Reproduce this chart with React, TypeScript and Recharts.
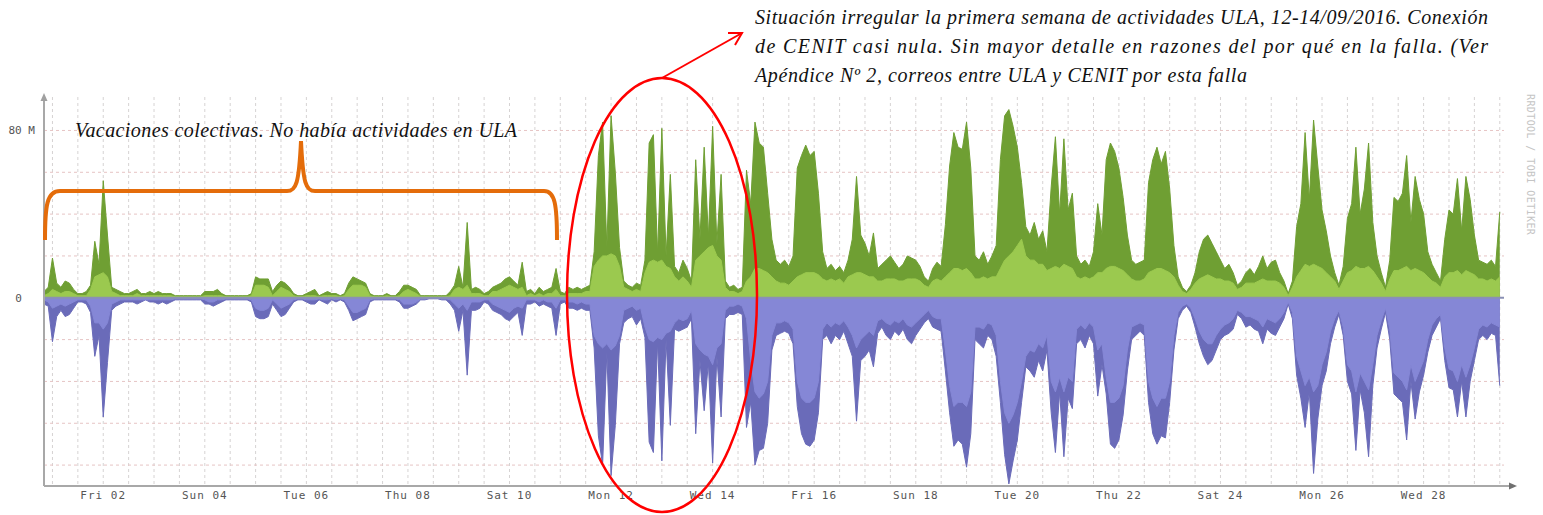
import React from 'react';
import {
  ComposedChart,
  Area,
  XAxis,
  YAxis,
  CartesianGrid,
  ReferenceLine,
} from 'recharts';

// traffic samples every 2 hours, starting Aug 31 20:00 (hour -4 from Sep 1 00:00), in M
const inMax = [
  3, 5,
  19, 7, 5, 8, 7, 4, 2, 2, 3, 6, 27, 16, // Sep 1
  56, 30, 5, 4, 3, 2, 2, 3, 4, 2, 2, 3,
  2, 3, 2, 2, 2, 1, 1, 1, 1, 1, 1, 1,
  3, 3, 3, 4, 2, 1, 1, 1, 1, 1, 1, 2,
  10, 9, 9, 9, 3, 6, 8, 7, 5, 2, 1, 1, // Sep 5
  2, 3, 4, 1, 2, 3, 2, 2, 1, 2, 7, 10,
  9, 8, 7, 2, 1, 1, 1, 2, 1, 1, 3, 6,
  6, 5, 4, 1, 1, 1, 1, 1, 1, 1, 3, 6,
  15, 5, 36, 4, 5, 4, 2, 3, 5, 6, 7, 9,
  10, 8, 6, 17, 3, 4, 2, 5, 3, 4, 5, 14, // Sep 10
  3, 2, 5, 4, 5, 4, 5, 6, 22, 68, 84, 24,
  87, 60, 24, 8, 6, 5, 7, 6, 18, 74, 78, 21,
  81, 20, 59, 15, 12, 18, 14, 8, 66, 28, 72, 29,
  82, 26, 59, 8, 5, 6, 4, 5, 61, 45, 84, 74,
  72, 50, 28, 18, 16, 18, 15, 20, 62, 68, 73, 68, // Sep 15
  70, 50, 22, 14, 16, 13, 15, 12, 18, 28, 58, 30,
  26, 20, 31, 14, 16, 18, 20, 17, 14, 16, 20, 19,
  18, 15, 10, 8, 14, 17, 15, 35, 63, 79, 72, 71,
  84, 62, 20, 18, 22, 16, 20, 25, 66, 87, 90, 82,
  72, 55, 34, 30, 36, 28, 32, 22, 53, 77, 40, 76, // Sep 20
  42, 50, 20, 16, 18, 15, 22, 45, 30, 66, 74, 70,
  62, 48, 30, 18, 16, 17, 18, 55, 66, 72, 64, 70,
  52, 25, 10, 5, 3, 6, 12, 22, 28, 30, 26, 22,
  18, 14, 16, 12, 6, 8, 12, 14, 11, 15, 20, 14,
  17, 18, 12, 8, 2, 8, 34, 45, 79, 47, 85, 63, // Sep 25
  42, 32, 20, 12, 6, 15, 38, 45, 72, 40, 52, 74,
  36, 20, 12, 5, 18, 48, 46, 50, 68, 36, 58, 47,
  40, 22, 16, 12, 8, 28, 42, 40, 57, 32, 58, 47,
  30, 18, 17, 16, 18, 15, 41,
];

const inAvg = [
  1, 2,
  4, 3, 2, 3, 3, 2, 1, 1, 1, 4, 10, 11,
  12, 10, 3, 2, 1, 1, 1, 1, 2, 1, 1, 1,
  1, 1, 1, 1, 1, 0.5, 0.5, 0.5, 0.5, 0.5, 0.5, 0.5,
  1, 1, 1, 1, 1, 0.5, 0.5, 0.5, 0.5, 0.5, 0.5, 1,
  6, 6, 6, 5, 1, 3, 5, 4, 3, 1, 0.5, 0.5,
  1, 1, 1, 0.5, 1, 1, 1, 1, 0.5, 1, 4, 6,
  6, 6, 5, 1, 0.5, 0.5, 0.5, 1, 0.5, 0.5, 1, 3,
  4, 3, 2, 0.5, 0.5, 0.5, 0.5, 0.5, 0.5, 0.5, 1, 4,
  5, 4, 6, 2, 2, 2, 1, 1, 3, 3, 4, 5,
  6, 5, 4, 5, 1, 2, 1, 2, 1, 2, 2, 4,
  1, 1, 2, 2, 2, 2, 3, 3, 15, 18, 20, 20,
  21, 20, 15, 5, 4, 3, 4, 3, 12, 17, 18, 17,
  18, 15, 14, 10, 8, 10, 8, 5, 18, 20, 22, 24,
  25, 20, 18, 5, 3, 3, 2, 3, 8, 10, 14, 14,
  13, 12, 10, 8, 7, 7, 6, 8, 10, 11, 12, 12,
  12, 11, 9, 8, 9, 8, 9, 7, 10, 11, 12, 12,
  11, 10, 10, 8, 8, 9, 9, 9, 8, 8, 9, 9,
  9, 8, 6, 5, 8, 9, 8, 10, 12, 14, 14, 13,
  14, 12, 9, 9, 10, 9, 10, 10, 14, 18, 20, 22,
  25, 28, 20, 18, 18, 16, 16, 13, 14, 15, 14, 16,
  15, 14, 10, 9, 10, 9, 10, 12, 12, 14, 15, 15,
  14, 13, 11, 9, 8, 8, 9, 12, 13, 14, 14, 13,
  12, 10, 6, 3, 2, 4, 7, 9, 10, 11, 10, 9,
  9, 8, 8, 7, 4, 5, 7, 7, 7, 8, 9, 8,
  8, 8, 7, 5, 1, 5, 10, 13, 16, 15, 16, 15,
  14, 12, 10, 8, 4, 8, 12, 13, 15, 14, 14, 15,
  13, 10, 7, 3, 9, 13, 13, 14, 15, 13, 14, 13,
  12, 10, 8, 7, 5, 10, 12, 12, 13, 11, 13, 12,
  11, 9, 9, 8, 9, 8, 10,
];

const outMax = [
  -3, -4,
  -21, -9, -6, -9, -8, -5, -2, -2, -3, -7, -28, -18,
  -57, -31, -6, -4, -3, -2, -2, -2, -3, -2, -1, -2,
  -2, -3, -2, -3, -2, -1, -1, -1, -1, -1, -1, -1,
  -3, -3, -4, -3, -2, -1, -1, -1, -1, -1, -1, -2,
  -9, -10, -10, -9, -3, -6, -9, -8, -5, -2, -1, -1,
  -2, -3, -3, -1, -2, -3, -1, -2, -1, -2, -6, -11,
  -10, -9, -8, -2, -1, -1, -1, -1, -1, -1, -2, -5,
  -5, -4, -3, -1, -1, -0.5, -0.5, -0.5, -1, -1, -3, -6,
  -16, -6, -37, -6, -6, -5, -2, -3, -6, -7, -8, -10,
  -11, -9, -7, -18, -3, -3, -2, -4, -3, -4, -5, -18,
  -3, -2, -5, -5, -6, -5, -6, -6, -24, -66, -80, -26,
  -85, -61, -22, -12, -10, -9, -13, -10, -19, -69, -74, -21,
  -78, -20, -61, -15, -16, -15, -14, -10, -65, -30, -54, -31,
  -79, -28, -57, -10, -8, -8, -7, -8, -62, -50, -80, -73,
  -72, -60, -25, -18, -17, -16, -17, -22, -52, -65, -70, -71,
  -68, -55, -20, -18, -22, -18, -20, -16, -22, -28, -59, -30,
  -28, -25, -33, -17, -14, -18, -20, -16, -18, -15, -20, -22,
  -18, -15, -12, -10, -14, -15, -16, -35, -55, -71, -68, -70,
  -81, -65, -20, -22, -24, -18, -20, -28, -50, -75, -89, -78,
  -68, -50, -33, -35, -38, -30, -35, -25, -55, -74, -45, -76,
  -48, -53, -22, -20, -24, -18, -22, -47, -32, -46, -70, -72,
  -68, -56, -35, -20, -18, -16, -18, -50, -65, -70, -66, -67,
  -50, -25, -10, -6, -4, -7, -14, -22, -28, -32, -30, -25,
  -20, -18, -17, -15, -8, -10, -14, -13, -15, -16, -22, -15,
  -17, -18, -14, -10, -3, -10, -37, -48, -62, -45, -84, -58,
  -42, -35, -22, -14, -8, -18, -40, -46, -73, -44, -55, -76,
  -42, -24, -15, -7, -20, -46, -48, -50, -68, -40, -58, -45,
  -37, -26, -18, -14, -10, -30, -43, -44, -57, -40, -57, -40,
  -30, -20, -18, -20, -17, -18, -42,
];

const outAvg = [
  -1, -2,
  -5, -4, -3, -4, -3, -2, -1, -1, -1, -4, -12, -12,
  -15, -12, -3, -2, -1, -1, -1, -1, -1, -1, -1, -1,
  -1, -1, -1, -1, -1, -0.5, -0.5, -0.5, -0.5, -0.5, -0.5, -0.5,
  -1, -2, -2, -1, -1, -0.5, -0.5, -0.5, -0.5, -0.5, -0.5, -1,
  -5, -6, -6, -5, -1, -3, -5, -4, -3, -1, -0.5, -0.5,
  -1, -1, -1, -0.5, -1, -1, -0.5, -1, -0.5, -1, -4, -7,
  -7, -6, -5, -1, -0.5, -0.5, -0.5, -0.5, -0.5, -0.5, -1, -3,
  -3, -3, -2, -0.5, -0.5, -0.3, -0.3, -0.3, -0.5, -0.5, -1, -3,
  -5, -3, -6, -2, -2, -2, -1, -1, -3, -4, -5, -6,
  -7, -5, -4, -5, -1, -1, -1, -2, -1, -2, -2, -5,
  -1, -1, -2, -2, -3, -2, -3, -3, -18, -22, -24, -22,
  -25, -23, -18, -6, -5, -4, -6, -5, -14, -20, -21, -19,
  -20, -17, -16, -12, -10, -11, -10, -6, -22, -25, -27, -28,
  -32, -24, -22, -6, -4, -4, -3, -4, -10, -30, -45, -48,
  -46, -40, -18, -12, -12, -11, -12, -15, -40, -48, -50, -50,
  -48, -40, -15, -12, -14, -12, -13, -11, -14, -18, -24, -20,
  -18, -16, -18, -11, -10, -12, -13, -11, -12, -10, -13, -14,
  -12, -10, -8, -6, -9, -10, -10, -25, -42, -52, -50, -50,
  -52, -45, -14, -14, -15, -12, -13, -18, -40, -55, -60, -56,
  -50, -40, -28, -25, -26, -22, -24, -18, -40, -45, -38, -45,
  -38, -40, -15, -13, -15, -12, -14, -25, -22, -38, -50, -50,
  -48, -42, -25, -14, -13, -12, -13, -40, -48, -52, -48, -48,
  -40, -18, -7, -4, -3, -5, -10, -16, -20, -22, -22, -18,
  -15, -13, -12, -10, -6, -7, -9, -9, -10, -11, -14, -10,
  -11, -12, -10, -7, -2, -7, -28, -35, -42, -38, -45, -42,
  -32, -26, -16, -10, -6, -14, -32, -35, -45, -36, -40, -44,
  -32, -18, -11, -5, -15, -36, -38, -40, -44, -32, -40, -35,
  -30, -20, -13, -10, -8, -24, -34, -35, -40, -32, -38, -32,
  -24, -15, -13, -14, -12, -13, -14,
];

const tickHours = [24, 72, 120, 168, 216, 264, 312, 360, 408, 456, 504, 552, 600, 648];
const tickLabels = [
  'Fri 02', 'Sun 04', 'Tue 06', 'Thu 08', 'Sat 10', 'Mon 12', 'Wed 14',
  'Fri 16', 'Sun 18', 'Tue 20', 'Thu 22', 'Sat 24', 'Mon 26', 'Wed 28',
];
const yTicks = [0, 80];
const yGrid = [-80, -60, -40, -20, 20, 40, 60, 80];

const data = inMax.map((v, i) => ({
  t: -4 + 2 * i,
  inMax: v,
  inAvg: inAvg[i],
  outMax: outMax[i],
  outAvg: outAvg[i],
}));

const xGrid: number[] = [];
for (let h = 0; h <= 684; h += 12) xGrid.push(h);

const mono = '"DejaVu Sans Mono", monospace';
const serif = '"Liberation Serif", "Times New Roman", serif';

const YTick = (props: any) => {
  const { x, y, payload } = props;
  const label = payload.value === 0 ? '0  ' : `${payload.value} M`;
  return (
    <text x={x - 1} y={y} dy="0.35em" textAnchor="end" fontFamily={mono} fontSize={11}
      fill="#555" style={{ whiteSpace: 'pre' }}>
      {label}
    </text>
  );
};

const App: React.FC = () => {
  return (
    <div style={{ position: 'absolute', left: 0, top: 0, width: 1543, height: 515, background: '#fff' }}>
      <ComposedChart
        width={1543}
        height={515}
        data={data}
        margin={{ top: 97, right: 39, bottom: 0, left: 0 }}
      >
        <CartesianGrid horizontal={false} verticalValues={xGrid} stroke="#d6d3d3" strokeDasharray="3 3" />
        <CartesianGrid vertical={false} horizontalValues={yGrid} stroke="#e6c4c4" strokeDasharray="3 3" />
        <XAxis
          dataKey="t"
          type="number"
          domain={[-4, 686]}
          ticks={tickHours}
          interval={0}
          tickFormatter={(v: number) => tickLabels[tickHours.indexOf(v)] ?? ''}
          height={29}
          tickSize={0}
          tickMargin={5}
          axisLine={{ stroke: '#a8a8a8', strokeWidth: 2 }}
          tickLine={false}
          tick={{ fontSize: 11, fontFamily: mono, fill: '#555', letterSpacing: 1 }}
          allowDataOverflow
        />
        <YAxis
          type="number"
          domain={[-90, 96]}
          ticks={yTicks}
          width={44}
          axisLine={{ stroke: '#a8a8a8', strokeWidth: 2 }}
          tickLine={false}
          tick={<YTick />}
          allowDataOverflow
        />
        <Area type="linear" dataKey="outMax" baseValue={0} stroke="#6a6bb9" strokeWidth={1}
          fill="#6a6bb9" fillOpacity={1} dot={false} activeDot={false} isAnimationActive={false} />
        <Area type="linear" dataKey="outAvg" baseValue={0} stroke="#8587d6" strokeWidth={1}
          fill="#8587d6" fillOpacity={1} dot={false} activeDot={false} isAnimationActive={false} />
        <Area type="linear" dataKey="inMax" baseValue={0} stroke="#6f9f33" strokeWidth={1}
          fill="#6f9f33" fillOpacity={1} dot={false} activeDot={false} isAnimationActive={false} />
        <Area type="linear" dataKey="inAvg" baseValue={0} stroke="#9bc94f" strokeWidth={1}
          fill="#9bc94f" fillOpacity={1} dot={false} activeDot={false} isAnimationActive={false} />
        <ReferenceLine y={0} stroke="#8a90b4" strokeWidth={2} />
      </ComposedChart>

      <svg width={1543} height={515} style={{ position: 'absolute', left: 0, top: 0, pointerEvents: 'none' }}>
        {/* axis arrows */}
        <polygon points="44,93 40.5,101 47.5,101" fill="#a0a0a0" />
        <line x1={1503} y1={486} x2={1512} y2={486} stroke="#a8a8a8" strokeWidth={2} />
        <polygon points="1517,486 1509,482.5 1509,489.5" fill="#707070" />
        <text transform="translate(1527,94) rotate(90)" fontFamily={mono} fontSize={10}
          fill="#c4c4c4" letterSpacing={0.4}>
          RRDTOOL / TOBI OETIKER
        </text>

        {/* vacation note */}
        <text x={75} y={137} fontFamily={serif} fontStyle="italic" fontSize={20} fill="#111"
          textLength={442} lengthAdjust="spacing">
          Vacaciones colectivas. No había actividades en ULA
        </text>
        <path
          d="M 45 240 C 45 205 47 191 60 191 L 287 191 C 296 191 299 184 301 141 C 303 184 306 191 315 191 L 544 191 C 555 191 557 205 557 240"
          fill="none" stroke="#e46c0a" strokeWidth={4}
        />

        {/* irregular week note */}
        <ellipse cx={662} cy={295} rx={95} ry={217} fill="none" stroke="#ff0000" strokeWidth={2.5} />
        <line x1={662} y1={78} x2={742} y2={33} stroke="#ff0000" strokeWidth={2} />
        <polyline points="728,33 742,33 735,45" fill="none" stroke="#ff0000" strokeWidth={2} />
        <text x={755} y={24} fontFamily={serif} fontStyle="italic" fontSize={20} fill="#111"
          textLength={733} lengthAdjust="spacing">
          Situación irregular la primera semana de actividades ULA, 12-14/09/2016. Conexión
        </text>
        <text x={755} y={53} fontFamily={serif} fontStyle="italic" fontSize={20} fill="#111"
          textLength={733} lengthAdjust="spacing">
          de CENIT casi nula. Sin mayor detalle en razones del por qué en la falla. (Ver
        </text>
        <text x={755} y={82} fontFamily={serif} fontStyle="italic" fontSize={20} fill="#111"
          textLength={492} lengthAdjust="spacing">
          Apéndice Nº 2, correos entre ULA y CENIT por esta falla
        </text>
      </svg>
    </div>
  );
};

export default App;
